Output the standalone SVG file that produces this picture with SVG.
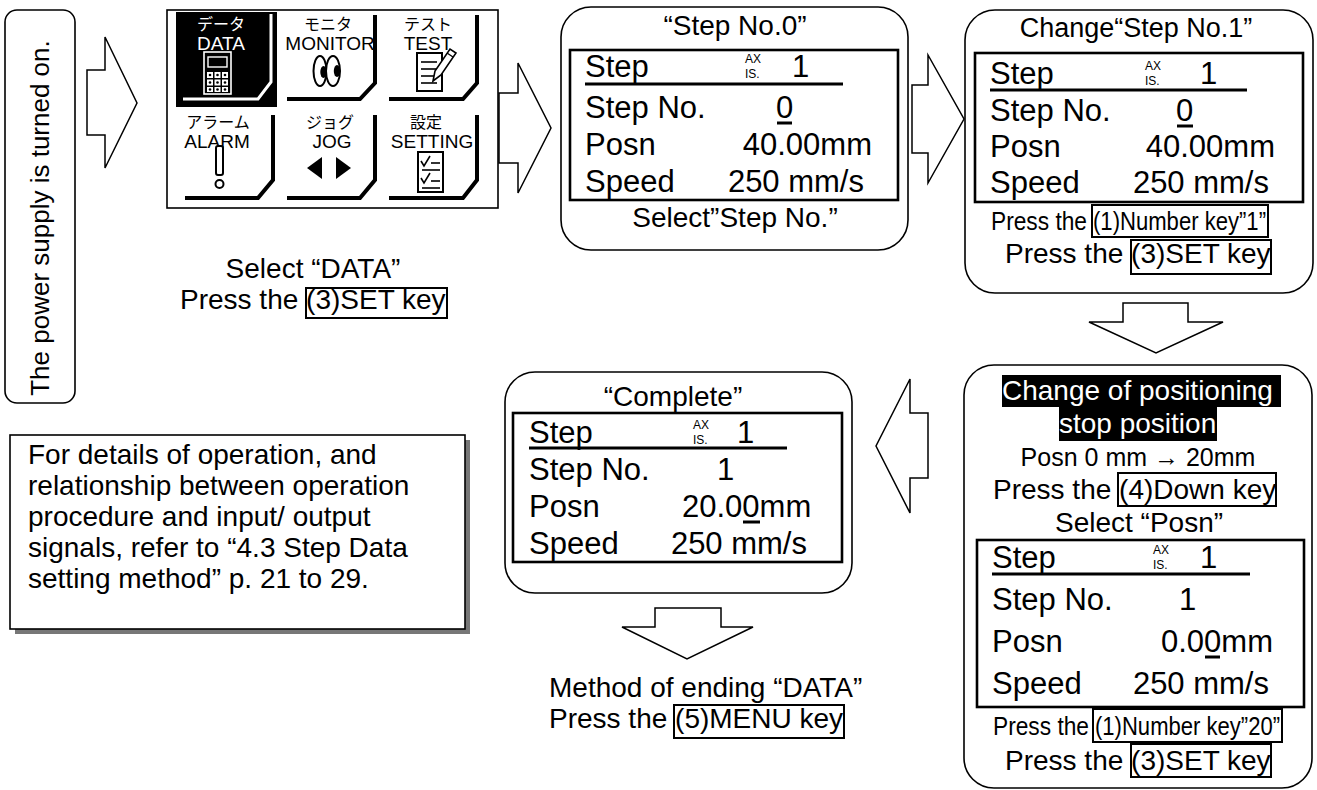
<svg xmlns="http://www.w3.org/2000/svg" width="1317" height="790" viewBox="0 0 1317 790">
<style>
.t{font-family:"Liberation Sans",Arial,sans-serif;fill:#000}
.j{font-family:"Liberation Sans","Noto Sans CJK JP",sans-serif}
.lbl{font-size:28px}
.lcd{font-size:31px}
.ax{font-size:12px}
.tile{font-size:19px}
.kana{font-size:16px}
.w{fill:#fff}
.rbox{fill:#fff;stroke:#000;stroke-width:1.6}
.lcdbox{fill:none;stroke:#000;stroke-width:2.6}
.key{fill:none;stroke:#000;stroke-width:2}
.ul{stroke:#000;stroke-width:3}
.arrow{fill:#fff;stroke:#000;stroke-width:1.5;stroke-linejoin:miter}
.bevel{fill:none;stroke:#000;stroke-width:4}
.ico{fill:#fff;stroke:#000;stroke-width:2}
</style>
<rect width="1317" height="790" fill="#fff"/>

<g id="connectors">
<polygon class="arrow" points="87,70 105,70 105,37 137,103 105,168 105,135 87,135"/>
<polygon class="arrow" points="499,93 518,93 518,63 551,128 518,193 518,163 499,163"/>
<polygon class="arrow" points="912,85 928,85 928,55 964,119 928,183 928,153 912,153"/>
<polygon class="arrow" points="1123,303 1188,303 1188,322 1223,322 1156,353 1089,322 1123,322"/>
<polygon class="arrow" points="928,413 910,413 910,379 876,446 910,513 910,478 928,478"/>
<polygon class="arrow" points="655,608 721,608 721,627 753,627 687,659 622,627 655,627"/>
</g>

<g id="power">
<rect class="rbox" x="5" y="10" width="70" height="393" rx="12"/>
<text class="t" font-size="26" text-anchor="middle" transform="translate(49,218) rotate(-90)">The power supply is turned on.</text>
</g>

<g id="menu">
<rect x="167" y="10" width="331" height="198" fill="#fff" stroke="#000" stroke-width="1.6"/>
<!-- DATA tile -->
<rect x="176" y="12" width="101" height="95" fill="#000"/>
<polyline points="183,99 258,99 271,82 271,14" fill="none" stroke="#fff" stroke-width="3"/>
<text class="j kana w" x="221" y="30" text-anchor="middle">データ</text>
<text class="t tile w" x="221" y="50" text-anchor="middle">DATA</text>
<rect x="204" y="52" width="27" height="42" fill="none" stroke="#fff" stroke-width="1.6"/>
<rect x="208" y="57" width="19" height="10" fill="none" stroke="#fff" stroke-width="1.4"/>
<g fill="#fff">
<rect x="207" y="72" width="6" height="6"/><rect x="214.5" y="72" width="6" height="6"/><rect x="222" y="72" width="6" height="6"/>
<rect x="207" y="79.5" width="6" height="6"/><rect x="214.5" y="79.5" width="6" height="6"/><rect x="222" y="79.5" width="6" height="6"/>
<rect x="207" y="87" width="6" height="5"/><rect x="214.5" y="87" width="6" height="5"/><rect x="222" y="87" width="6" height="5"/>
</g>
<g fill="#000">
<circle cx="210" cy="75" r="1.3"/><circle cx="217.5" cy="75" r="1.3"/><circle cx="225" cy="75" r="1.3"/>
<circle cx="210" cy="82.5" r="1.3"/><circle cx="217.5" cy="82.5" r="1.3"/><circle cx="225" cy="82.5" r="1.3"/>
<circle cx="210" cy="89.5" r="1.3"/><circle cx="217.5" cy="89.5" r="1.3"/><circle cx="225" cy="89.5" r="1.3"/>
</g>
<!-- MONITOR tile -->
<polyline class="bevel" points="287,99 360,99 375,83 375,15"/>
<text class="j kana" x="328" y="30" text-anchor="middle">モニタ</text>
<text class="t tile" x="330" y="50" text-anchor="middle">MONITOR</text>
<ellipse class="ico" cx="320" cy="71" rx="6.5" ry="15"/>
<ellipse class="ico" cx="333" cy="71" rx="7" ry="15"/>
<ellipse cx="323.5" cy="72" rx="3.2" ry="6" fill="#000"/>
<ellipse cx="337" cy="71" rx="3.2" ry="6" fill="#000"/>
<!-- TEST tile -->
<polyline class="bevel" points="389,99 463,99 477,83 477,15"/>
<text class="j kana" x="428" y="30" text-anchor="middle">テスト</text>
<text class="t tile" x="428" y="50" text-anchor="middle">TEST</text>
<rect class="ico" x="417" y="53" width="25" height="38"/>
<g stroke="#000" stroke-width="1.6">
<line x1="421" y1="62" x2="437" y2="62"/><line x1="421" y1="69" x2="437" y2="69"/>
<line x1="421" y1="76" x2="437" y2="76"/><line x1="421" y1="83" x2="437" y2="83"/>
</g>
<polygon points="433,81 435,71 450,49 456,53 441,75" fill="#fff" stroke="#000" stroke-width="1.6"/>
<line x1="447" y1="53" x2="453" y2="57" stroke="#000" stroke-width="1.4"/>
<!-- ALARM tile -->
<polyline class="bevel" points="185,198 258,198 273,180 273,115"/>
<text class="j kana" x="218" y="128" text-anchor="middle">アラーム</text>
<text class="t tile" x="217" y="148" text-anchor="middle">ALARM</text>
<rect class="ico" x="216" y="146" width="7" height="29" rx="2"/>
<circle class="ico" cx="219.5" cy="184" r="4"/>
<!-- JOG tile -->
<polyline class="bevel" points="287,198 360,198 375,180 375,115"/>
<text class="j kana" x="330" y="128" text-anchor="middle">ジョグ</text>
<text class="t tile" x="332" y="148" text-anchor="middle">JOG</text>
<polygon points="307,168 322,157 322,179" fill="#000"/>
<polygon points="336,157 336,179 351,168" fill="#000"/>
<!-- SETTING tile -->
<polyline class="bevel" points="389,198 463,198 477,180 477,115"/>
<text class="j kana" x="426" y="128" text-anchor="middle">設定</text>
<text class="t tile" x="432" y="148" text-anchor="middle">SETTING</text>
<rect class="ico" x="418" y="152" width="25" height="40"/>
<g stroke="#000" stroke-width="1.6" fill="none">
<polyline points="421,161 424,166 430,156"/>
<line x1="431" y1="163" x2="440" y2="163"/><line x1="422" y1="170" x2="440" y2="170"/>
<polyline points="421,178 424,183 430,173"/>
<line x1="431" y1="181" x2="440" y2="181"/><line x1="422" y1="188" x2="440" y2="188"/>
</g>
</g>

<g id="label-data">
<text class="t lbl" x="313" y="278" text-anchor="middle">Select “DATA”</text>
<text class="t lbl" x="180" y="309">Press the (3)SET key</text>
<rect class="key" x="306" y="288" width="141" height="30"/>
</g>

<g id="step0">
<rect class="rbox" x="561" y="7" width="347" height="243" rx="30"/>
<text class="t lbl" x="735" y="35" text-anchor="middle">“Step No.0”</text>
<rect class="lcdbox" x="570" y="50" width="328" height="150"/>
<text class="t lcd" x="585" y="77">Step</text>
<line class="ul" x1="585" y1="84" x2="843" y2="84"/>
<text class="t ax" x="745" y="63">AX</text>
<text class="t ax" x="745" y="78">IS.</text>
<text class="t lcd" x="792" y="77">1</text>
<text class="t lcd" x="585" y="118">Step No.</text>
<text class="t lcd" x="776" y="118">0</text>
<line class="ul" x1="777" y1="123" x2="792" y2="123"/>
<text class="t lcd" x="585" y="155">Posn</text>
<text class="t lcd" x="872" y="155" text-anchor="end">40.00mm</text>
<text class="t lcd" x="585" y="192">Speed</text>
<text class="t lcd" x="864" y="192" text-anchor="end">250 mm/s</text>
<text class="t lbl" x="735" y="227" text-anchor="middle">Select”Step No.”</text>
</g>

<g id="step1">
<rect class="rbox" x="965" y="10" width="348" height="283" rx="30"/>
<text class="t" font-size="27" x="1136" y="37" text-anchor="middle">Change“Step No.1”</text>
<rect class="lcdbox" x="975" y="53" width="328" height="149"/>
<text class="t lcd" x="990" y="84">Step</text>
<line class="ul" x1="990" y1="90" x2="1247" y2="90"/>
<text class="t ax" x="1145" y="70">AX</text>
<text class="t ax" x="1145" y="85">IS.</text>
<text class="t lcd" x="1200" y="84">1</text>
<text class="t lcd" x="990" y="121">Step No.</text>
<text class="t lcd" x="1176" y="121">0</text>
<line class="ul" x1="1177" y1="126" x2="1193" y2="126"/>
<text class="t lcd" x="990" y="157">Posn</text>
<text class="t lcd" x="1275" y="157" text-anchor="end">40.00mm</text>
<text class="t lcd" x="990" y="193">Speed</text>
<text class="t lcd" x="1269" y="193" text-anchor="end">250 mm/s</text>
<text class="t" font-size="26" x="991" y="230" textLength="96" lengthAdjust="spacingAndGlyphs">Press the</text>
<text class="t" font-size="26" x="1093" y="230" textLength="173" lengthAdjust="spacingAndGlyphs">(1)Number key”1”</text>
<rect class="key" x="1092" y="205" width="176" height="32"/>
<text class="t lbl" x="1005" y="263">Press the (3)SET key</text>
<rect class="key" x="1131" y="240" width="140" height="34"/>
</g>

<g id="posn">
<rect class="rbox" x="964" y="365" width="348" height="423" rx="30"/>
<rect x="1002" y="375" width="279" height="32" fill="#000"/>
<rect x="1059" y="407" width="158" height="34" fill="#000"/>
<text class="t lbl w" x="1002" y="400">Change of positioning</text>
<text class="t lbl w" x="1059" y="433">stop position</text>
<text class="t" font-size="25" x="1138" y="466" text-anchor="middle">Posn 0 mm → 20mm</text>
<text class="t lbl" x="993" y="499">Press the (4)Down key</text>
<rect class="key" x="1118" y="473" width="158" height="33"/>
<text class="t lbl" x="1055" y="532">Select “Posn”</text>
<rect class="lcdbox" x="977" y="540" width="327" height="167"/>
<text class="t lcd" x="992" y="568">Step</text>
<line class="ul" x1="992" y1="574" x2="1250" y2="574"/>
<text class="t ax" x="1153" y="554">AX</text>
<text class="t ax" x="1153" y="569">IS.</text>
<text class="t lcd" x="1200" y="568">1</text>
<text class="t lcd" x="992" y="610">Step No.</text>
<text class="t lcd" x="1179" y="610">1</text>
<text class="t lcd" x="992" y="652">Posn</text>
<text class="t lcd" x="1161" y="652">0.00mm</text>
<line class="ul" x1="1205" y1="657" x2="1220" y2="657"/>
<text class="t lcd" x="992" y="694">Speed</text>
<text class="t lcd" x="1269" y="694" text-anchor="end">250 mm/s</text>
<text class="t" font-size="26" x="993" y="735" textLength="96" lengthAdjust="spacingAndGlyphs">Press the</text>
<text class="t" font-size="26" x="1095" y="735" textLength="185" lengthAdjust="spacingAndGlyphs">(1)Number key”20”</text>
<rect class="key" x="1093" y="709" width="189" height="33"/>
<text class="t lbl" x="1005" y="770">Press the (3)SET key</text>
<rect class="key" x="1131" y="744" width="140" height="33"/>
</g>

<g id="complete">
<rect class="rbox" x="505" y="372" width="347" height="221" rx="30"/>
<text class="t lbl" x="673" y="406" text-anchor="middle">“Complete”</text>
<rect class="lcdbox" x="513" y="413" width="329" height="149"/>
<text class="t lcd" x="529" y="443">Step</text>
<line class="ul" x1="529" y1="448" x2="787" y2="448"/>
<text class="t ax" x="693" y="429">AX</text>
<text class="t ax" x="693" y="444">IS.</text>
<text class="t lcd" x="737" y="443">1</text>
<text class="t lcd" x="529" y="480">Step No.</text>
<text class="t lcd" x="717" y="480">1</text>
<text class="t lcd" x="529" y="517">Posn</text>
<text class="t lcd" x="682" y="517">20.00mm</text>
<line class="ul" x1="743" y1="522" x2="760" y2="522"/>
<text class="t lcd" x="529" y="554">Speed</text>
<text class="t lcd" x="807" y="554" text-anchor="end">250 mm/s</text>
</g>

<g id="label-end">
<text class="t lbl" x="549" y="697">Method of ending “DATA”</text>
<text class="t lbl" x="549" y="728">Press the (5)MENU key</text>
<rect class="key" x="674" y="705" width="170" height="33"/>
</g>

<g id="note">
<rect x="15" y="440" width="455" height="194" fill="#777"/>
<rect x="10" y="435" width="455" height="194" fill="#fff" stroke="#000" stroke-width="1.6"/>
<text class="t lbl" x="28" y="464">For details of operation, and</text>
<text class="t lbl" x="28" y="495">relationship between operation</text>
<text class="t lbl" x="28" y="526">procedure and input/ output</text>
<text class="t lbl" x="28" y="557">signals, refer to “4.3 Step Data</text>
<text class="t lbl" x="28" y="588">setting method” p. 21 to 29.</text>
</g>
</svg>
